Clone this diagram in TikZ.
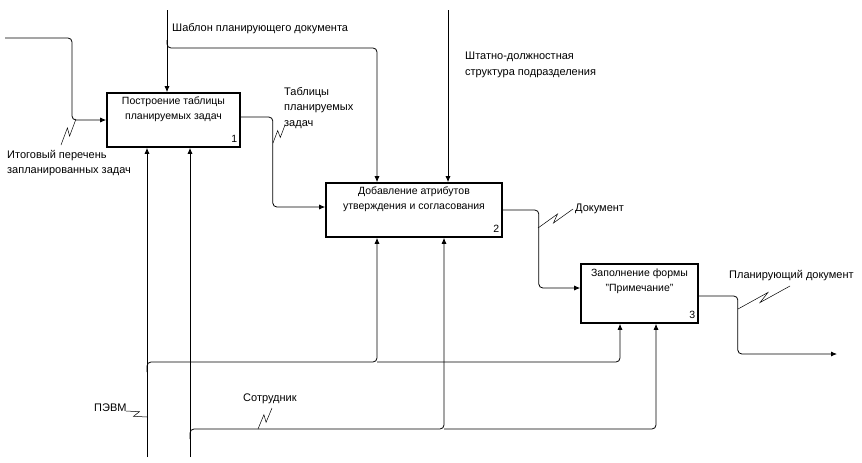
\documentclass[tikz,border=0pt]{standalone}
\usepackage{fontspec}
\setmainfont{Liberation Sans}
\usetikzlibrary{arrows.meta, positioning, calc}
\tikzstyle{process} = [rectangle, draw=black, line width=1.6pt,
minimum height=54pt, inner sep=0pt]
\tikzstyle{title} = [align=center, inner sep=0pt,
font=\fontsize{10.5}{15.5}\selectfont]
\tikzstyle{number} = [inner xsep=3.5pt, inner ysep=5pt, font=\fontsize{10.5}{12}\selectfont]
\tikzstyle{note} = [align=left, inner sep=0pt,
font=\fontsize{11}{15.5}\selectfont]
\tikzstyle{link} = [line width=0.8pt, -{Latex[length=6pt, width=5pt]}, rounded corners=4pt]
\newcommand{\squig}[2]{\draw[line width=0.5pt] (#1) -- ($(#1)!0.6!(#2)!3pt!90:(#2)$)
  -- ($(#1)!0.4!(#2)!3pt!-90:(#2)$) -- (#2);}

\begin{document}
\begin{tikzpicture}[x=1pt, y=-1pt]
    \useasboundingbox (0,0) rectangle (862,463);
    \node (pro1) [process, minimum width=133pt] at (173.5,120) {};
    \node (pro2) [process, minimum width=176pt] at (414,210) {};
    \node (pro3) [process, minimum width=117pt, minimum height=59pt] at (639.5,293.5) {};
    \node (txt1) [title, below=4pt of pro1.north] {Построение таблицы\\планируемых задач};
    \node (txt2) [title, below=4pt of pro2.north] {Добавление атрибутов\\утверждения и согласования};
    \node (txt3) [title, below=5pt of pro3.north] {Заполнение формы\\"Примечание"};
    \node (num1) [number, anchor=south east] at (pro1.south east) {1};
    \node (num2) [number, anchor=south east] at (pro2.south east) {2};
    \node (num3) [number, anchor=south east] at (pro3.south east) {3};

    \coordinate (in1) at (5,38);
    \coordinate (c1) at (167,10);
    \coordinate (c2) at (448,10);
    \coordinate (m1) at (147,457);
    \coordinate (m2) at (190,457);
    \coordinate (bus1) at (147,362);
    \coordinate (bus2) at (190,429);
    \coordinate (out1) at (837,354);

    \draw [link] (in1) -- ++(67,0) |- (pro1.west);
    \draw [link] (c1) -- (c1 |- pro1.north);
    \draw [link] (c1) ++(0,30) |- ++(210,8) -- ([xshift=-37pt]pro2.north);
    \draw [link] (c2) -- (c2 |- pro2.north);
    \draw [link] ([yshift=3pt]pro1.east) -- ++(32,0) |- ([yshift=3pt]pro2.west);
    \draw [link] (pro2.east) -- ++(36,0) |- ([yshift=5.5pt]pro3.west);
    \draw [link] ([yshift=-2.5pt]pro3.east) -- ++(39,0) |- (out1);
    \draw [link] (m1) -- (m1 |- pro1.south);
    \draw [link] (m2) -- (m2 |- pro1.south);
    \draw [link] (bus1) ++(0,10) |- ++(230,-10) -- ([xshift=-37pt]pro2.south);
    \draw [link] (bus1) ++(230,0) -| ([xshift=-19.5pt]pro3.south);
    \draw [link] (bus2) ++(0,10) |- ++(254,-10) -- ([xshift=30pt]pro2.south);
    \draw [link] (bus2) ++(254,0) -| ([xshift=16.5pt]pro3.south);

    \node (lin1) [note, anchor=west] at (7,163) {Итоговый перечень\\запланированных задач};
    \node (lc1) [note, anchor=west] at (172,29) {Шаблон планирующего документа};
    \node (lc2) [note, anchor=west] at (465,65) {Штатно-должностная\\структура подразделения};
    \node (lo1) [note, anchor=west] at (284,108) {Таблицы\\планируемых\\задач};
    \node (lo2) [note, anchor=west] at (575,209) {Документ};
    \node (lo3) [note, anchor=west] at (729,276) {Планирующий документ};
    \node (lm1) [note, anchor=west] at (94,408) {ПЭВМ};
    \node (lm2) [note, anchor=west] at (243,399) {Сотрудник};

    \squig{61,145}{76,119}
    \squig{273,143}{285,125}
    \squig{538,228}{573,209}
    \squig{738,309}{790,286}
    \squig{126,411}{147,417}
    \squig{258,429}{272,408}
\end{tikzpicture}
\end{document}
